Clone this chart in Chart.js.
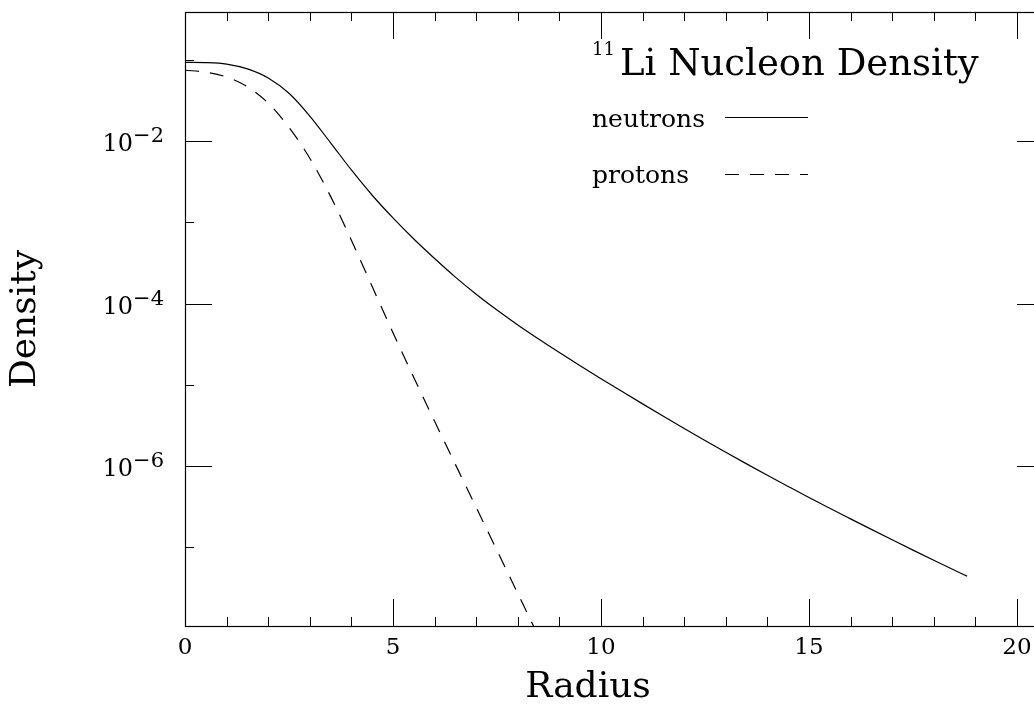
<!DOCTYPE html>
<html><head><meta charset="utf-8">
<script src="https://cdn.jsdelivr.net/npm/chart.js@4/dist/chart.umd.min.js"></script>
<style>
html,body{margin:0;padding:0;background:#fff;overflow:hidden;width:1034px;height:708px}
#wrap{position:relative;width:1050px;height:708px}
</style></head><body>
<div id="wrap"><canvas id="c" width="1050" height="708"></canvas></div>
<script>
// ---- data ----
const radiusNeutrons = [0,0.5,1,1.5,2,2.5,3,3.5,4,4.5,5,5.5,6,6.5,7,7.5,8,8.5,9,9.5,10,10.5,11,11.5,12,12.5,13,13.5,14,14.5,15,15.5,16,16.5,17,17.5,18,18.5,18.8];
const densityNeutrons = [0.0933,0.0927,0.0891,0.0776,0.0600,0.0389,0.0204,9.55e-3,4.42e-3,2.16e-3,1.135e-3,6.24e-4,3.59e-4,2.12e-4,1.306e-4,8.32e-5,5.46e-5,3.67e-5,2.50e-5,1.718e-5,1.189e-5,8.30e-6,5.82e-6,4.10e-6,2.90e-6,2.065e-6,1.476e-6,1.062e-6,7.69e-7,5.60e-7,4.09e-7,3.01e-7,2.23e-7,1.656e-7,1.233e-7,9.20e-8,6.90e-8,5.20e-8,4.40e-8];
const radiusProtons = [0,0.5,1,1.5,2,2.5,3,3.5,4,4.5,5,5.5,6,6.5,7,7.5,8,8.5];
const densityProtons = [0.0748,0.0708,0.0617,0.0468,0.0295,0.0148,6.17e-3,2.09e-3,6.03e-4,1.622e-4,4.37e-5,1.23e-5,3.55e-6,1.047e-6,3.09e-7,9.12e-8,2.69e-8,7.94e-9];
const seriesLabels = ['neutrons','protons'];
const xTickLabels = [0,5,10,15,20];
const yTickExponents = [-2,-4,-6];
const titleSuperscript = '11';
const titleText = 'Li Nucleon Density';
const xAxisTitle = 'Radius';
const yAxisTitle = 'Density';

const FONT = "'DejaVu Serif', 'Liberation Serif', serif";

const framePlugin = {
  id: 'frame',
  afterDraw(chart) {
    const {ctx, chartArea: a, scales: {x, y}} = chart;
    ctx.save();
    ctx.strokeStyle = '#000';
    ctx.lineWidth = 1.2;
    ctx.strokeRect(a.left + 0.5, a.top + 0.5, a.right - a.left, a.bottom - a.top);
    ctx.lineWidth = 1;
    ctx.beginPath();
    // x ticks (inward, bottom and top)
    for (let v = Math.ceil(x.min); v <= x.max; v++) {
      const px = Math.round(x.getPixelForValue(v)) + 0.5;
      const len = v % 5 === 0 ? 27 : 9;
      ctx.moveTo(px, a.bottom); ctx.lineTo(px, a.bottom - len);
      ctx.moveTo(px, a.top); ctx.lineTo(px, a.top + len);
    }
    // y ticks (inward, left and right) at each decade
    for (let e = Math.ceil(Math.log10(y.min)); e <= Math.floor(Math.log10(y.max)); e++) {
      const py = Math.round(y.getPixelForValue(Math.pow(10, e))) + 0.5;
      const len = e % 2 === 0 ? 27 : 9;
      ctx.moveTo(a.left, py); ctx.lineTo(a.left + len, py);
      ctx.moveTo(a.right, py); ctx.lineTo(a.right - len, py);
    }
    ctx.stroke();

    // y tick labels with superscript exponents
    ctx.fillStyle = '#000';
    yTickExponents.forEach(e => {
      const py = y.getPixelForValue(Math.pow(10, e));
      const sup = '\u2212' + Math.abs(e);
      ctx.font = '21px ' + FONT;
      ctx.textAlign = 'right';
      ctx.textBaseline = 'alphabetic';
      const rx = a.left - 21;
      ctx.fillText(sup, rx, py + 1);
      const w = ctx.measureText(sup).width;
      ctx.font = '24px ' + FONT;
      ctx.fillText('10', rx - w, py + 10);
    });

    // x axis title (offset as in the reference)
    ctx.textAlign = 'center';
    ctx.font = '36px ' + FONT;
    ctx.fillText(xAxisTitle, 588, 697);

    // in-plot title
    ctx.textAlign = 'left';
    ctx.font = '18px ' + FONT;
    ctx.fillText(titleSuperscript, 592, 55);
    ctx.font = '37px ' + FONT;
    ctx.fillText(titleText, 620, 75);

    // legend
    ctx.font = '25px ' + FONT;
    const ds = chart.data.datasets;
    const rows = [{y: 127, ly: 117.5}, {y: 183, ly: 174.5}];
    ds.forEach((d, i) => {
      ctx.fillText(d.label, 592, rows[i].y);
      ctx.beginPath();
      ctx.setLineDash(d.borderDash || []);
      ctx.lineWidth = 1.2;
      ctx.moveTo(725, rows[i].ly); ctx.lineTo(808, rows[i].ly);
      ctx.stroke();
    });
    ctx.setLineDash([]);
    ctx.restore();
  }
};

const toPoints = (xs, ys) => xs.map((r, i) => ({x: r, y: ys[i]}));

new Chart(document.getElementById('c'), {
  type: 'line',
  data: {
    datasets: [
      {label: seriesLabels[0], data: toPoints(radiusNeutrons, densityNeutrons), borderColor: '#000', borderWidth: 1.2, pointRadius: 0, cubicInterpolationMode: 'monotone', fill: false},
      {label: seriesLabels[1], data: toPoints(radiusProtons, densityProtons), borderColor: '#000', borderWidth: 1.2, borderDash: [14, 11], pointRadius: 0, cubicInterpolationMode: 'monotone', fill: false}
    ]
  },
  options: {
    responsive: false,
    devicePixelRatio: 1,
    animation: false,
    layout: {padding: {top: 12, right: 6, left: 0, bottom: 0}},
    plugins: {legend: {display: false}, tooltip: {enabled: false}},
    scales: {
      x: {
        type: 'linear', min: 0, max: 20.65, position: 'bottom',
        grid: {display: false, drawTicks: false},
        border: {display: false},
        afterBuildTicks: s => { s.ticks = xTickLabels.map(v => ({value: v})); },
        ticks: {color: '#000', font: {family: FONT, size: 23}, padding: 8, maxRotation: 0, autoSkip: false},
        title: {display: false, text: xAxisTitle},
        afterFit: s => { s.height = 82; }
      },
      y: {
        type: 'logarithmic', min: 1.07e-8, max: 0.39,
        grid: {display: false, drawTicks: false},
        border: {display: false},
        ticks: {display: false},
        title: {display: true, text: yAxisTitle, color: '#000', font: {family: FONT, size: 36}, padding: {top: 4, bottom: 0}},
        afterFit: s => { s.width = 185; }
      }
    }
  },
  plugins: [framePlugin]
});
</script>
</body></html>
